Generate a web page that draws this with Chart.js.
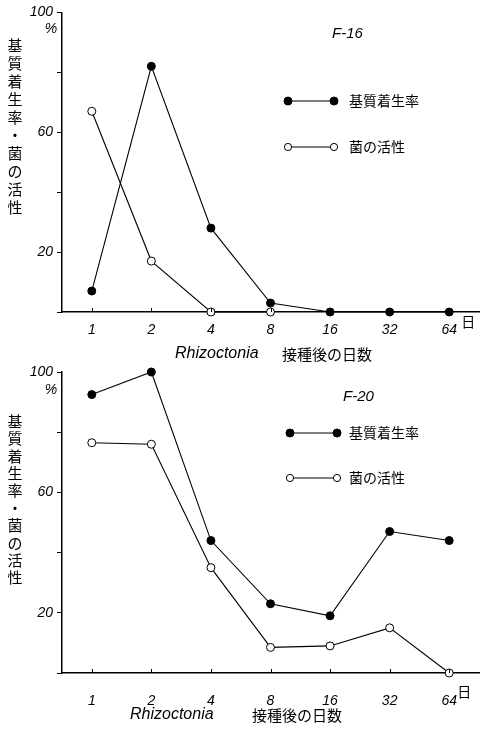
<!DOCTYPE html>
<html>
<head>
<meta charset="utf-8">
<script src="https://cdn.jsdelivr.net/npm/chart.js@4.4.1/dist/chart.umd.min.js"></script>
<style>
  html, body { margin: 0; padding: 0; background: #fff; }
  #wrap { position: relative; width: 484px; height: 732px; overflow: hidden; }
  canvas { position: absolute; left: 0; }
</style>
</head>
<body>
<div id="wrap">
  <canvas id="chartF16" width="484" height="370" style="top:0"></canvas>
  <canvas id="chartF20" width="484" height="376" style="top:356px"></canvas>
</div>
<script>
// days after inoculation
const days = ['1', '2', '4', '8', '16', '32', '64'];

// F-16
const f16Attach = [7, 82, 28, 3, 0, 0, 0];
const f16Activity = [67, 17, 0, 0, null, null, null];

// F-20
const f20Attach = [92.5, 100, 44, 23, 19, 47, 44];
const f20Activity = [76.5, 76, 35, 8.5, 9, 15, 0];

const yTickLabels = [20, 60, 100];
const attachLabel = '基質着生率';
const activityLabel = '菌の活性';
const yTitle = '基質着生率・菌の活性';

const latin = 'italic 14px "Liberation Sans", "DejaVu Sans", sans-serif';
const cjk = '"Noto Sans CJK JP", sans-serif';

function drawMarker(ctx, x, y, filled) {
  ctx.beginPath();
  ctx.arc(x, y, filled ? 4 : 3.6, 0, Math.PI * 2);
  ctx.fillStyle = filled ? '#000' : '#fff';
  ctx.fill();
  ctx.lineWidth = 1;
  ctx.strokeStyle = '#000';
  ctx.stroke();
}

const decor = {
  id: 'decor',
  afterDraw(chart, args, o) {
    const ctx = chart.ctx;
    const xs = chart.scales.x;
    const area = chart.chartArea;
    ctx.save();
    ctx.strokeStyle = '#000';
    ctx.fillStyle = '#000';

    // small inward ticks on x axis
    ctx.lineWidth = 1;
    days.forEach((d, i) => {
      const x = Math.round(xs.getPixelForValue(i)) + 0.5;
      ctx.beginPath();
      ctx.moveTo(x, area.bottom);
      ctx.lineTo(x, area.bottom - 4);
      ctx.stroke();
    });

    // unit after last day
    ctx.font = '14px ' + cjk;
    ctx.textAlign = 'left';
    ctx.textBaseline = 'middle';
    ctx.fillText('日', xs.getPixelForValue(days.length - 1) + o.unitDx, area.bottom + o.unitDy);

    // percent sign under 100
    ctx.font = latin;
    ctx.textAlign = 'center';
    ctx.fillText('%', 51, o.pctY);

    // vertical y title
    ctx.font = '15px ' + cjk;
    [...yTitle].forEach((ch, i) => {
      ctx.fillText(ch, 15, o.yTitleTop + i * o.yTitleStep);
    });

    // chart title
    ctx.font = 'italic 15px "Liberation Sans", sans-serif';
    ctx.textAlign = 'left';
    ctx.fillText(o.title, o.titleX, o.titleY);

    // legend
    chart.data.datasets.forEach((ds, i) => {
      const y = o.legendY[i];
      const filled = ds.backgroundColor === '#000';
      ctx.lineWidth = 1.2;
      ctx.beginPath();
      ctx.moveTo(o.legendX1, y);
      ctx.lineTo(o.legendX2, y);
      ctx.stroke();
      drawMarker(ctx, o.legendX1, y, filled);
      drawMarker(ctx, o.legendX2, y, filled);
      ctx.fillStyle = '#000';
      ctx.font = '14px ' + cjk;
      ctx.textAlign = 'left';
      ctx.fillText(ds.label, o.legendTextX, y);
    });

    // x title
    ctx.font = 'italic 16px "Liberation Sans", sans-serif';
    ctx.fillText('Rhizoctonia', o.xTitleX1, o.xTitleY);
    ctx.font = '15px ' + cjk;
    ctx.fillText('接種後の日数', o.xTitleX2, o.xTitleY);

    ctx.restore();
  }
};

function makeChart(id, attach, activity, padTop, xAxisH, labelPad, deco) {
  const line = { borderColor: '#000', borderWidth: 1.1, pointRadius: 4, pointBorderWidth: 1,
    pointBorderColor: '#000', tension: 0, clip: false, spanGaps: false };
  return new Chart(document.getElementById(id), {
    type: 'line',
    data: {
      labels: days,
      datasets: [
        Object.assign({ label: attachLabel, data: attach, backgroundColor: '#000', pointBackgroundColor: '#000' }, line),
        Object.assign({ label: activityLabel, data: activity, backgroundColor: '#fff', pointBackgroundColor: '#fff', pointRadius: 3.6 }, line)
      ]
    },
    options: {
      responsive: false,
      devicePixelRatio: 1,
      animation: false,
      layout: { padding: { top: padTop, left: 0, right: 0, bottom: 0 } },
      plugins: { legend: { display: false }, tooltip: { enabled: false }, decor: deco },
      scales: {
        x: {
          offset: true,
          grid: { display: false },
          border: { display: true, color: '#000', width: 1.5 },
          ticks: { color: '#000', font: { family: '"Liberation Sans", sans-serif', style: 'italic', size: 14 }, padding: labelPad, maxRotation: 0 },
          afterFit(s) { s.height = xAxisH; }
        },
        y: {
          min: 0,
          max: 100,
          grid: { drawOnChartArea: false, drawTicks: true, tickLength: 5, color: '#000', lineWidth: 1 },
          border: { display: true, color: '#000', width: 1.5 },
          ticks: {
            stepSize: 20,
            padding: 4,
            color: '#000',
            font: { family: '"Liberation Sans", sans-serif', style: 'italic', size: 14 },
            callback: v => yTickLabels.includes(v) ? v : ''
          },
          afterFit(s) { s.width = 62; }
        }
      }
    },
    plugins: [decor]
  });
}

makeChart('chartF16', f16Attach, f16Activity, 12, 58, 2, {
  title: 'F-16', titleX: 332, titleY: 34,
  pctY: 29, yTitleTop: 45, yTitleStep: 18,
  unitDx: 12, unitDy: 10,
  legendX1: 288, legendX2: 334, legendTextX: 349, legendY: [101, 147],
  xTitleX1: 175, xTitleX2: 282, xTitleY: 354
});

makeChart('chartF20', f20Attach, f20Activity, 16, 59, 12, {
  title: 'F-20', titleX: 343, titleY: 41,
  pctY: 34, yTitleTop: 65, yTitleStep: 17.4,
  unitDx: 8, unitDy: 19,
  legendX1: 290, legendX2: 337, legendTextX: 349, legendY: [77, 122],
  xTitleX1: 130, xTitleX2: 252, xTitleY: 359
});
</script>
</body>
</html>
